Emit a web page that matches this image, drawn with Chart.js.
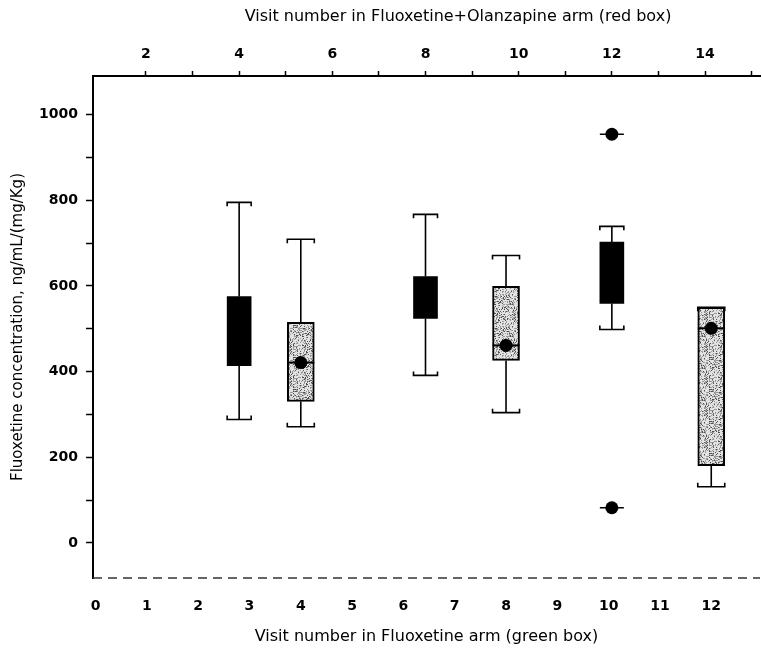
<!DOCTYPE html>
<html>
<head>
<meta charset="utf-8">
<script src="https://cdn.jsdelivr.net/npm/chart.js@4"></script>
<style>
  body { margin: 0; background: #fff; }
  canvas { display: block; }
</style>
</head>
<body>
<canvas id="box-chart" width="762" height="649"></canvas>
<script>
// Fluoxetine arm: stippled boxes on the bottom axis
var fluoxVisits = [4, 8, 12];
var fluoxLow = [271, 304, 131];
var fluoxQ1 = [330, 426, 180];
var fluoxMedian = [421, 461, 501];
var fluoxQ3 = [515, 599, 550];
var fluoxHigh = [709, 671, 550];

// Fluoxetine+Olanzapine arm: black boxes on the top axis
var comboVisits = [4, 8, 12];
var comboLow = [288, 391, 498];
var comboQ1 = [414, 524, 559];
var comboQ3 = [575, 622, 702];
var comboHigh = [795, 767, 739];
var comboOutlierVisits = [12, 12];
var comboOutliers = [954, 82];

// tick values; odd top ticks and odd hundreds carry no label
var bottomTicks = [0, 1, 2, 3, 4, 5, 6, 7, 8, 9, 10, 11, 12];
var topTicks = [2, 3, 4, 5, 6, 7, 8, 9, 10, 11, 12, 13, 14, 15];
var yTicks = [0, 100, 200, 300, 400, 500, 600, 700, 800, 900, 1000];

var bottomTitle = 'Visit number in Fluoxetine arm (green box)';
var topTitle = 'Visit number in Fluoxetine+Olanzapine arm (red box)';
var yTitle = 'Fluoxetine concentration, ng/mL/(mg/Kg)';

var FONT = 'DejaVu Sans';
var FLUOX_W = 27, COMBO_W = 24;

// grey speckled fill for the fluoxetine boxes
function stipple() {
  var c = document.createElement('canvas');
  c.width = c.height = 32;
  var g = c.getContext('2d');
  g.fillStyle = '#e2e2e2';
  g.fillRect(0, 0, 32, 32);
  for (var i = 0; i < 32; i++) {
    for (var j = 0; j < 32; j++) {
      var h = Math.imul(i + 1, 374761393) ^ Math.imul(j + 7, 668265263);
      h = Math.imul(h ^ (h >>> 13), 1274126177) >>> 0;
      if (h % 100 < 40) {
        g.fillStyle = h % 3 ? '#999' : '#505050';
        g.fillRect(i, j, 1, 1);
      }
    }
  }
  return g.createPattern(c, 'repeat');
}

function pts(xs, ys) {
  return xs.map(function(v, i) { return { x: v, y: ys[i] }; });
}
function ranges(xs, lo, hi) {
  return xs.map(function(v, i) { return { x: v, y: [lo[i], hi[i]] }; });
}
function fixedTicks(values) {
  return function(s) { s.ticks = values.map(function(v) { return { value: v }; }); };
}
// horizontal axes: fixed height, no extra room reserved for edge labels
function fitHorizontal(h) {
  return function(s) { s.height = h; s.paddingLeft = 0; s.paddingRight = 0; };
}

var whiskerSets = [
  { axis: 'x', visits: fluoxVisits, low: fluoxLow, q1: fluoxQ1, q3: fluoxQ3, high: fluoxHigh, width: FLUOX_W },
  { axis: 'x2', visits: comboVisits, low: comboLow, q1: comboQ1, q3: comboQ3, high: comboHigh, width: COMBO_W }
];

// stems and bracket-shaped caps, drawn behind the boxes
var whiskerPlugin = {
  id: 'whiskers',
  beforeDatasetsDraw: function(chart) {
    var ctx = chart.ctx, y = chart.scales.y;
    ctx.save();
    ctx.strokeStyle = '#000';
    ctx.lineWidth = 1.6;
    whiskerSets.forEach(function(set) {
      var xs = chart.scales[set.axis];
      var half = set.width / 2;
      set.visits.forEach(function(v, i) {
        var px = xs.getPixelForValue(v);
        ctx.beginPath();
        ctx.moveTo(px, y.getPixelForValue(set.low[i]));
        ctx.lineTo(px, y.getPixelForValue(set.q1[i]));
        ctx.moveTo(px, y.getPixelForValue(set.q3[i]));
        ctx.lineTo(px, y.getPixelForValue(set.high[i]));
        ctx.stroke();
        [[set.low[i], -4], [set.high[i], 4]].forEach(function(c) {
          var cy = y.getPixelForValue(c[0]);
          ctx.beginPath();
          ctx.moveTo(px - half, cy + c[1]);
          ctx.lineTo(px - half, cy);
          ctx.lineTo(px + half, cy);
          ctx.lineTo(px + half, cy + c[1]);
          ctx.stroke();
        });
      });
    });
    ctx.restore();
  },
  afterDraw: function(chart) {
    var ctx = chart.ctx, a = chart.chartArea;
    ctx.save();
    // broken bottom axis line
    ctx.strokeStyle = '#333';
    ctx.lineWidth = 1.3;
    ctx.setLineDash([9, 6]);
    ctx.beginPath();
    ctx.moveTo(a.left, a.bottom);
    ctx.lineTo(a.right, a.bottom);
    ctx.stroke();
    ctx.setLineDash([]);
    // title of the top axis sits a little right of centre
    ctx.font = '16px "' + FONT + '"';
    ctx.fillStyle = '#000';
    ctx.textAlign = 'center';
    ctx.textBaseline = 'middle';
    ctx.fillText(topTitle, 458, 17);
    ctx.restore();
  }
};

var tickFont = { family: FONT, size: 14, weight: 'bold' };

new Chart(document.getElementById('box-chart'), {
  type: 'bar',
  data: {
    datasets: [
      { type: 'scatter', xAxisID: 'x2', data: pts(comboOutlierVisits, comboOutliers),
        pointRadius: 6.5, pointBackgroundColor: '#000', pointBorderWidth: 0, order: 0 },
      { type: 'scatter', xAxisID: 'x2', data: pts(comboOutlierVisits, comboOutliers),
        pointStyle: 'line', pointRadius: 12, pointBorderColor: '#000', pointBorderWidth: 1.5, order: 1 },
      { type: 'scatter', xAxisID: 'x', data: pts(fluoxVisits, fluoxMedian),
        pointRadius: 6.5, pointBackgroundColor: '#000', pointBorderWidth: 0, order: 0 },
      { type: 'scatter', xAxisID: 'x', data: pts(fluoxVisits, fluoxMedian),
        pointStyle: 'line', pointRadius: FLUOX_W / 2, pointBorderColor: '#000', pointBorderWidth: 2, order: 1 },
      { xAxisID: 'x', data: ranges(fluoxVisits, fluoxQ1, fluoxQ3),
        backgroundColor: stipple(), borderColor: '#000', borderWidth: 2, borderSkipped: false,
        barThickness: FLUOX_W, grouped: false, order: 2 },
      { xAxisID: 'x2', data: ranges(comboVisits, comboQ1, comboQ3),
        backgroundColor: '#000', borderWidth: 0,
        barThickness: COMBO_W, grouped: false, order: 2 }
    ]
  },
  options: {
    responsive: false,
    animation: false,
    layout: { autoPadding: false, padding: { left: 0, right: 2, top: 0, bottom: 0 } },
    plugins: { legend: { display: false }, tooltip: { enabled: false } },
    scales: {
      x: {
        type: 'linear', position: 'bottom', min: -0.05, max: 12.95, offset: false,
        afterBuildTicks: fixedTicks(bottomTicks),
        grid: { drawOnChartArea: false, drawTicks: false, offset: false },
        border: { display: false },
        ticks: { autoSkip: false, maxRotation: 0, padding: 20, color: '#000', font: tickFont,
          callback: function(v) { return String(v); } },
        title: { display: true, text: bottomTitle, color: '#000', font: { family: FONT, size: 16 }, padding: { top: 0, bottom: 3 } },
        afterFit: fitHorizontal(71)
      },
      x2: {
        type: 'linear', position: 'top', min: 0.863, max: 15.18, offset: false,
        afterBuildTicks: fixedTicks(topTicks),
        grid: { drawOnChartArea: false, tickLength: 5, tickColor: '#000', tickWidth: 1.5, offset: false },
        border: { color: '#000', width: 2 },
        ticks: { autoSkip: false, maxRotation: 0, padding: 8, color: '#000', font: tickFont,
          callback: function(v) { return v % 2 === 0 ? String(v) : ''; } },
        afterFit: fitHorizontal(76)
      },
      y: {
        type: 'linear', min: -82, max: 1090,
        afterBuildTicks: fixedTicks(yTicks),
        grid: { drawOnChartArea: false, tickLength: 7, tickColor: '#000', tickWidth: 1.5 },
        border: { color: '#000', width: 2 },
        ticks: { autoSkip: false, padding: 8, color: '#000', font: tickFont,
          callback: function(v) { return v % 200 === 0 ? String(v) : ''; } },
        title: { display: true, text: yTitle, color: '#000', font: { family: FONT, size: 15 }, padding: { top: 9 } },
        afterFit: function(s) { s.width = 93; }
      }
    }
  },
  plugins: [whiskerPlugin]
});
</script>
</body>
</html>
